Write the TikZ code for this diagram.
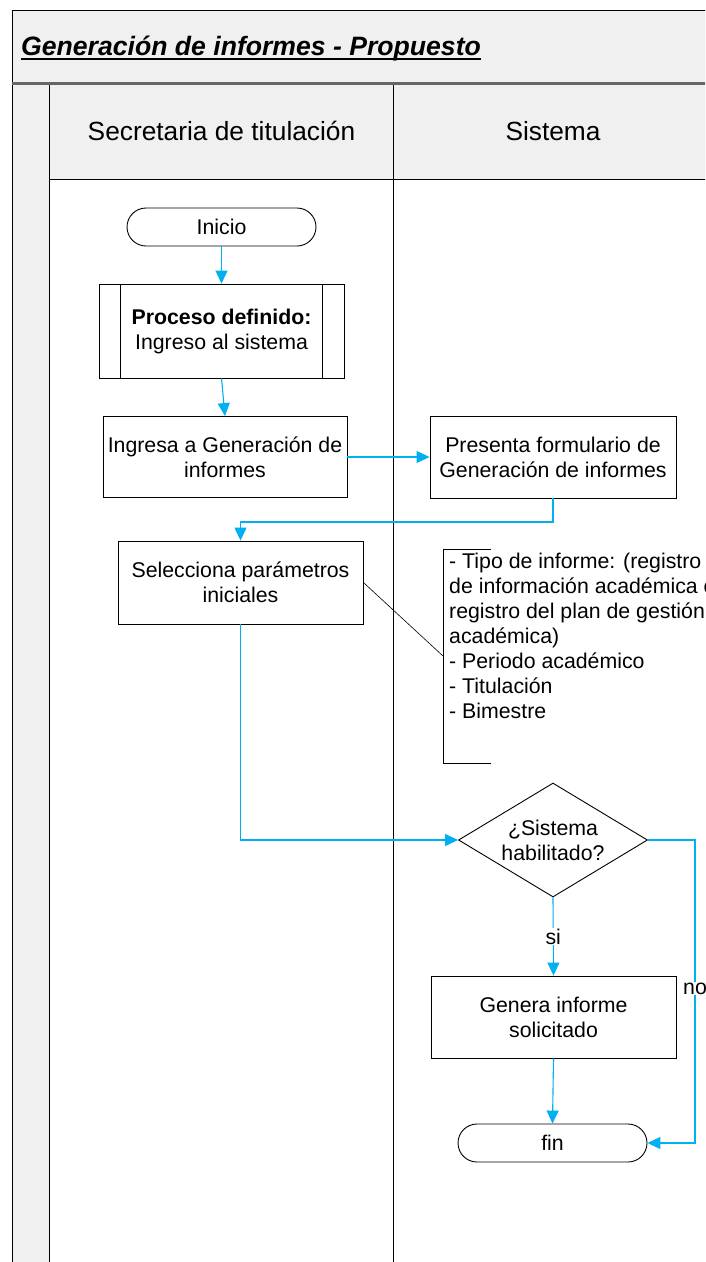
\documentclass[tikz,border=0pt]{standalone}
\usepackage{fontspec}
\setmainfont{Liberation Sans}
\usetikzlibrary{arrows.meta,shapes.geometric}
\definecolor{flow}{RGB}{0,176,240}
\definecolor{lanegray}{RGB}{240,240,240}
\begin{document}
\begin{tikzpicture}[x=1pt,y=-1pt,
  body/.style={font=\fontsize{21.3}{25}\selectfont},
  box/.style={draw,line width=0.9pt,rectangle,inner sep=0pt,align=center,body},
  term/.style={box,rounded corners=19pt,minimum width=189pt,minimum height=38pt},
  proc/.style={box,minimum width=245pt,minimum height=82pt},
  flowline/.style={draw=flow,line width=1.1pt,-{Triangle[length=13pt,width=12pt]}},
  lane/.style={line width=0.9pt},
  header/.style={font=\fontsize{26.3}{30}\selectfont},
  lbl/.style={body,fill=white,inner sep=1pt}
]
\useasboundingbox (0,0) rectangle (705,1262);
\clip (0,0) rectangle (705,1262);
\fill[white] (0,0) rectangle (705,1262);

% pool and lanes
\fill[lanegray] (12,10) rectangle (712,83);
\fill[lanegray] (12,83) rectangle (49.5,1270);
\fill[lanegray] (49.5,83) rectangle (712,179.5);
\draw[lane] (12,1270) -- (12,10) -- (712,10);
\draw[line width=2.2pt,black!60] (12,83.5) -- (712,83.5);
\draw[lane] (49.5,84.6) -- (49.5,1270);
\draw[lane] (49.5,179.5) -- (712,179.5);
\draw[lane] (393.5,84.6) -- (393.5,1270);

\node[anchor=base west,font=\fontsize{26.6}{30}\selectfont\bfseries\itshape,inner sep=0pt] (title) at (21,55) {Generación de informes - Propuesto};
\draw[line width=1.6pt] ([yshift=-3.8pt]title.base west) -- ([yshift=-3.8pt]title.base east);
\node[header] (h1) at (221.5,131) {Secretaria de titulación};
\node[header] (h2) at (553,131) {Sistema};

% nodes
\node[term] (inicio) at (221.5,227) {Inicio};
\node[proc,minimum height=94pt] (pd) at (221.5,331) {\textbf{Proceso definido:}\\Ingreso al sistema};
\draw[line width=0.9pt] ([xshift=22pt]pd.north west) -- ([xshift=22pt]pd.south west);
\draw[line width=0.9pt] ([xshift=-22pt]pd.north east) -- ([xshift=-22pt]pd.south east);
\node[proc,minimum width=244pt,minimum height=81pt] (ingresa) at (225,457) {Ingresa a Generación de\\informes};
\node[proc,minimum width=246pt] (presenta) at (553,457) {Presenta formulario de\\Generación de informes};
\node[proc,minimum height=83pt] (selec) at (240.5,582.5) {Selecciona parámetros\\iniciales};

% annotation
\draw[line width=0.9pt] (491,549) -- (443,549) -- (443,763) -- (491,763);
\coordinate (notept) at (443,656);
\node[body,anchor=north west,align=left,inner sep=0pt] (note) at (449,553) {- Tipo de informe: (registro\\de información académica o\\registro del plan de gestión\\académica)\\- Periodo académico\\- Titulación\\- Bimestre};
\draw[line width=0.6pt] (selec.east) -- (notept);

\node[draw,line width=0.9pt,diamond,aspect=1.66,inner sep=0pt,minimum width=189pt,minimum height=114pt,align=center,body] (dia) at (553,840) {¿Sistema\\habilitado?};
\node[proc] (genera) at (553.5,1017) {Genera informe\\solicitado};
\node[term] (fin) at (552.5,1143) {fin};
\coordinate (noturn1) at (695,840);
\coordinate (noturn2) at (695,1143);

% connectors
\draw[flowline] (inicio.south) -- (pd.north);
\draw[flowline] (pd.south) -- (ingresa.north);
\draw[flowline] (ingresa.east) -- (presenta.west);
\draw[flowline] (presenta.south) -- ++(0,23.5) -| (selec.north);
\draw[flowline] (selec.south) |- (dia.west);
\draw[flowline] (dia.south) -- node[lbl] {si} (genera.north);
\draw[flowline] (genera.south) -- (fin.north);
\draw[flowline] (dia.east) -- (noturn1) -- node[lbl,pos=0.49] {no} (noturn2) -- (fin.east);
\end{tikzpicture}
\end{document}
